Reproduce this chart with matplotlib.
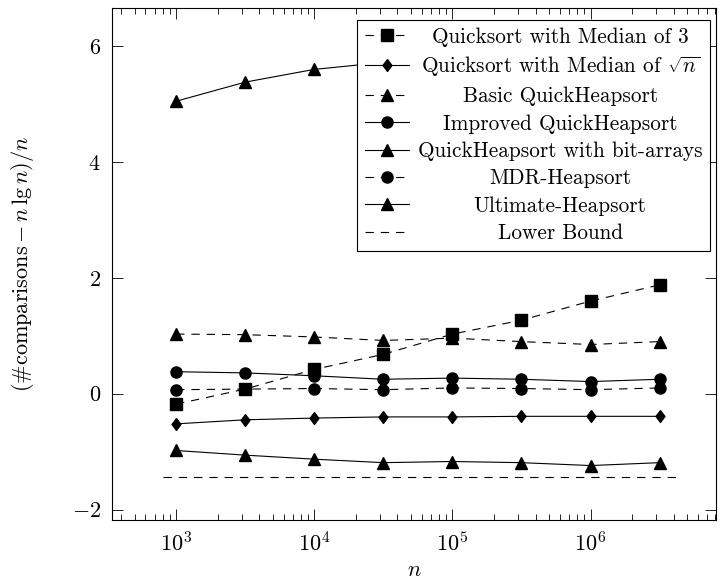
import numpy as np
import matplotlib
matplotlib.use("Agg")
import matplotlib.pyplot as plt

plt.rcParams['font.family'] = 'cmr10'
plt.rcParams['mathtext.fontset'] = 'cm'
plt.rcParams['axes.formatter.use_mathtext'] = True
plt.rcParams['font.size'] = 16
plt.rcParams['lines.scale_dashes'] = False

# data: n = 10^3 ... 10^6.5 in half-decade steps
n = [1e3, 3.16e3, 1e4, 3.16e4, 1e5, 3.16e5, 1e6, 3.16e6]
qs_med3 = [-0.18, 0.08, 0.42, 0.68, 1.03, 1.27, 1.60, 1.88]
qs_sqrt = [-0.52, -0.45, -0.42, -0.40, -0.40, -0.39, -0.39, -0.39]
basic_qhs = [1.03, 1.02, 0.98, 0.92, 0.96, 0.90, 0.85, 0.90]
improved_qhs = [0.38, 0.36, 0.31, 0.25, 0.27, 0.25, 0.21, 0.25]
qhs_bitarrays = [-0.98, -1.06, -1.13, -1.19, -1.17, -1.19, -1.24, -1.19]
mdr_heapsort = [0.07, 0.08, 0.09, 0.07, 0.10, 0.09, 0.07, 0.10]
ultimate_heapsort = [5.05, 5.38, 5.60, 5.72, 5.80, 5.86, 5.91, 5.95]
lb_n = [800, 4.25e6]
lower_bound = [-1.4427, -1.4427]

labels = ['Quicksort with Median of 3',
          r'Quicksort with Median of $\sqrt{n}$',
          'Basic QuickHeapsort',
          'Improved QuickHeapsort',
          'QuickHeapsort with bit-arrays',
          'MDR-Heapsort',
          'Ultimate-Heapsort',
          'Lower Bound']

dash = (0, (6, 5))
lw = 0.8
diamond = [(0, 1), (0.75, 0), (0, -1), (-0.75, 0), (0, 1)]

fig = plt.figure(figsize=(7.23, 5.84), dpi=100)
ax = fig.add_axes([112/723, 64/584, 604/723, 512/584])

ax.plot(n, qs_med3, ls=dash, color='k', lw=lw, marker='s', ms=8, label=labels[0])
ax.plot(n, qs_sqrt, ls='-', color='k', lw=lw, marker=diamond, ms=8.5, label=labels[1])
ax.plot(n, basic_qhs, ls=dash, color='k', lw=lw, marker='^', ms=8, label=labels[2])
ax.plot(n, improved_qhs, ls='-', color='k', lw=lw, marker='o', ms=8, label=labels[3])
ax.plot(n, qhs_bitarrays, ls='-', color='k', lw=lw, marker='^', ms=8, label=labels[4])
ax.plot(n, mdr_heapsort, ls=dash, color='k', lw=lw, marker='o', ms=8, label=labels[5])
ax.plot(n, ultimate_heapsort, ls='-', color='k', lw=lw, marker='^', ms=8, label=labels[6])
ax.plot(lb_n, lower_bound, ls=dash, color='k', lw=lw, label=labels[7])

ax.set_xscale('log')
ax.set_xlim(10**2.536, 10**6.908)
ax.set_ylim(-2.18, 6.66)
ax.set_yticks([-2, 0, 2, 4, 6])
ax.tick_params(which='both', direction='in', top=True, right=True, width=0.6)
ax.tick_params(which='major', length=8, pad=8)
ax.tick_params(which='minor', length=4.5)
for s in ax.spines.values():
    s.set_linewidth(0.8)

ax.set_xlabel(r'$n$', labelpad=4)
ax.set_ylabel(r'$(\#\mathrm{comparisons} - n\,\lg n)/n$', labelpad=26)

leg = ax.legend(loc='upper right', bbox_to_anchor=(0.990, 0.977), borderaxespad=0,
                fancybox=False, framealpha=1, edgecolor='k', handlelength=2.1,
                handletextpad=0.4, labelspacing=0.37, borderpad=0.35, fontsize=15.3)
leg.get_frame().set_linewidth(0.8)

# center legend texts like pgfplots
fig.canvas.draw()
r = fig.canvas.get_renderer()
texts = leg.get_texts()
widths = [t.get_window_extent(r).width for t in texts]
W = max(widths)
for t, w in zip(texts, widths):
    t.set_x((W - w) / 2)

fig.savefig('out.png', dpi=100)
